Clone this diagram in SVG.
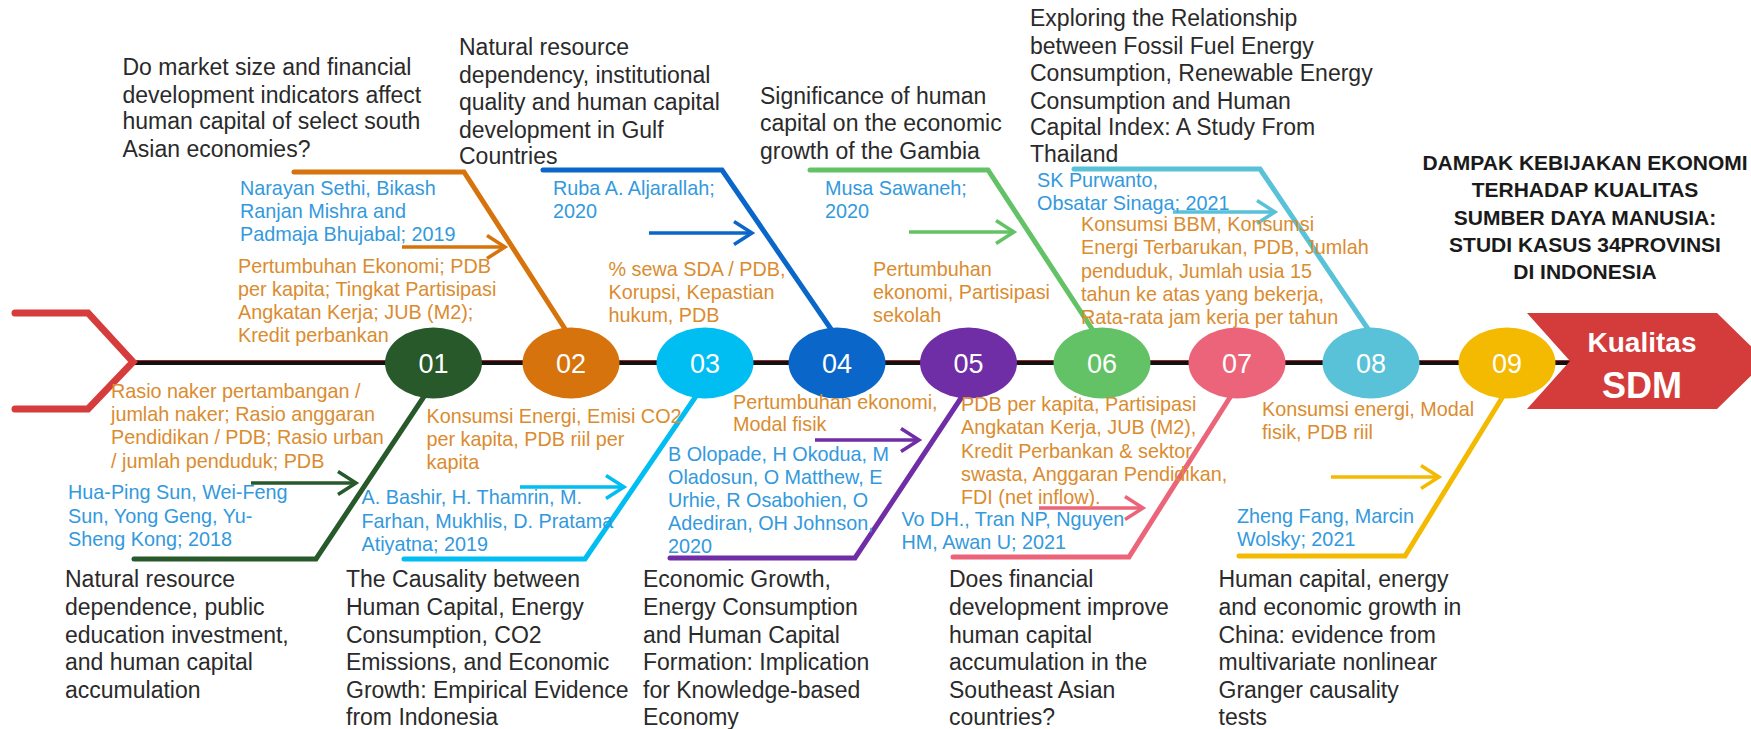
<svg xmlns="http://www.w3.org/2000/svg" width="1751" height="729" viewBox="0 0 1751 729">
<style>
text{font-family:"Liberation Sans",Arial,sans-serif}
.t{font-size:23px;fill:#2a2a2a}
.a{font-size:19.8px;fill:#3399DD}
.v{font-size:19.8px;fill:#DA8C2F}
.h{font-size:21px;font-weight:bold;fill:#1a1a1a;text-anchor:middle}
.n{font-size:27px;fill:#fff;text-anchor:middle}
.bone{fill:none;stroke-width:5;stroke-linejoin:miter;stroke-linecap:round}
.arr{fill:none;stroke-width:3.5}
</style>
<defs>
<marker id="m1" markerUnits="userSpaceOnUse" markerWidth="24" markerHeight="28" refX="19" refY="12" orient="auto" overflow="visible"><path d="M1,0.5 L19,12 L1,23.5" fill="none" stroke="#27592A" stroke-width="3.5"/></marker>
<marker id="m2" markerUnits="userSpaceOnUse" markerWidth="24" markerHeight="28" refX="19" refY="12" orient="auto" overflow="visible"><path d="M1,0.5 L19,12 L1,23.5" fill="none" stroke="#D6730C" stroke-width="3.5"/></marker>
<marker id="m3" markerUnits="userSpaceOnUse" markerWidth="24" markerHeight="28" refX="19" refY="12" orient="auto" overflow="visible"><path d="M1,0.5 L19,12 L1,23.5" fill="none" stroke="#00BDF2" stroke-width="3.5"/></marker>
<marker id="m4" markerUnits="userSpaceOnUse" markerWidth="24" markerHeight="28" refX="19" refY="12" orient="auto" overflow="visible"><path d="M1,0.5 L19,12 L1,23.5" fill="none" stroke="#0A67C9" stroke-width="3.5"/></marker>
<marker id="m5" markerUnits="userSpaceOnUse" markerWidth="24" markerHeight="28" refX="19" refY="12" orient="auto" overflow="visible"><path d="M1,0.5 L19,12 L1,23.5" fill="none" stroke="#6F2DA6" stroke-width="3.5"/></marker>
<marker id="m6" markerUnits="userSpaceOnUse" markerWidth="24" markerHeight="28" refX="19" refY="12" orient="auto" overflow="visible"><path d="M1,0.5 L19,12 L1,23.5" fill="none" stroke="#64C266" stroke-width="3.5"/></marker>
<marker id="m7" markerUnits="userSpaceOnUse" markerWidth="24" markerHeight="28" refX="19" refY="12" orient="auto" overflow="visible"><path d="M1,0.5 L19,12 L1,23.5" fill="none" stroke="#EC6479" stroke-width="3.5"/></marker>
<marker id="m8" markerUnits="userSpaceOnUse" markerWidth="24" markerHeight="28" refX="19" refY="12" orient="auto" overflow="visible"><path d="M1,0.5 L19,12 L1,23.5" fill="none" stroke="#59C2D8" stroke-width="3.5"/></marker>
<marker id="m9" markerUnits="userSpaceOnUse" markerWidth="24" markerHeight="28" refX="19" refY="12" orient="auto" overflow="visible"><path d="M1,0.5 L19,12 L1,23.5" fill="none" stroke="#F4B901" stroke-width="3.5"/></marker>
</defs>
<rect width="1751" height="729" fill="#fff"/>

<g id="connectors">
  <line x1="133" y1="361" x2="1572" y2="361" stroke="#9A2A2A" stroke-width="2"/>
  <line x1="133" y1="363" x2="1572" y2="363" stroke="#111" stroke-width="4"/>
  <polyline points="15,313 88,313 133,362 88,409 15,409" fill="none" stroke="#D63C3C" stroke-width="7" stroke-linecap="round"/>
  <path class="bone" stroke="#27592A" d="M435,380 L316,559 H134"/>
  <path class="arr" stroke="#27592A" marker-end="url(#m1)" d="M251,483 H356"/>
  <path class="bone" stroke="#D6730C" d="M294,172 H464 L567,332"/>
  <path class="arr" stroke="#D6730C" marker-end="url(#m2)" d="M402,247 H505"/>
  <path class="bone" stroke="#00BDF2" d="M707,380 L585,559 H404"/>
  <path class="arr" stroke="#00BDF2" marker-end="url(#m3)" d="M520,487 H624"/>
  <path class="bone" stroke="#0A67C9" d="M543,170 H722 L833,332"/>
  <path class="arr" stroke="#0A67C9" marker-end="url(#m4)" d="M649,233 H752"/>
  <path class="bone" stroke="#6F2DA6" d="M973,380 L855,558 H670"/>
  <path class="arr" stroke="#6F2DA6" marker-end="url(#m5)" d="M815,440 H919"/>
  <path class="bone" stroke="#64C266" d="M810,170 H988 L1094,332"/>
  <path class="arr" stroke="#64C266" marker-end="url(#m6)" d="M909,232 H1014"/>
  <path class="bone" stroke="#EC6479" d="M1241,380 L1129,557 H953"/>
  <path class="arr" stroke="#EC6479" marker-end="url(#m7)" d="M1039,508 H1143"/>
  <path class="bone" stroke="#59C2D8" d="M1074,169 H1260 L1370,332"/>
  <path class="arr" stroke="#59C2D8" marker-end="url(#m8)" d="M1173,212 H1275"/>
  <path class="bone" stroke="#F4B901" d="M1513,380 L1405,556 H1239"/>
  <path class="arr" stroke="#F4B901" marker-end="url(#m9)" d="M1331,477 H1439"/>
</g>

<g id="n01"><ellipse cx="433.5" cy="363" rx="48.5" ry="35.5" fill="#27592A"/><text class="n" x="433.5" y="373">01</text></g>
<g id="n02"><ellipse cx="571" cy="363" rx="48.5" ry="35.5" fill="#D6730C"/><text class="n" x="571" y="373">02</text></g>
<g id="n03"><ellipse cx="705" cy="363" rx="48.5" ry="35.5" fill="#00BDF2"/><text class="n" x="705" y="373">03</text></g>
<g id="n04"><ellipse cx="837" cy="363" rx="48.5" ry="35.5" fill="#0A67C9"/><text class="n" x="837" y="373">04</text></g>
<g id="n05"><ellipse cx="968.5" cy="363" rx="48.5" ry="35.5" fill="#6F2DA6"/><text class="n" x="968.5" y="373">05</text></g>
<g id="n06"><ellipse cx="1102" cy="363" rx="48.5" ry="35.5" fill="#64C266"/><text class="n" x="1102" y="373">06</text></g>
<g id="n07"><ellipse cx="1237" cy="363" rx="48.5" ry="35.5" fill="#EC6479"/><text class="n" x="1237" y="373">07</text></g>
<g id="n08"><ellipse cx="1371" cy="363" rx="48.5" ry="35.5" fill="#59C2D8"/><text class="n" x="1371" y="373">08</text></g>
<g id="n09"><ellipse cx="1507" cy="363" rx="48.5" ry="35.5" fill="#F4B901"/><text class="n" x="1507" y="373">09</text></g>

<g id="result">
  <polygon points="1527,313 1717,313 1766,361 1717,409 1527,409 1570,361" fill="#D43B3B"/>
  <text x="1642" y="352" font-size="28" font-weight="bold" fill="#fff" text-anchor="middle">Kualitas</text>
  <text x="1642" y="398" font-size="36" font-weight="bold" fill="#fff" text-anchor="middle">SDM</text>
</g>

<g id="main-title">
  <text class="h"><tspan x="1585" y="170">DAMPAK KEBIJAKAN EKONOMI</tspan><tspan x="1585" y="197">TERHADAP KUALITAS</tspan><tspan x="1585" y="225">SUMBER DAYA MANUSIA:</tspan><tspan x="1585" y="252">STUDI KASUS 34PROVINSI</tspan><tspan x="1585" y="279">DI INDONESIA</tspan></text>
</g>

<g id="study01">
  <text class="t"><tspan x="65" y="587">Natural resource</tspan><tspan x="65" y="615">dependence, public</tspan><tspan x="65" y="643">education investment,</tspan><tspan x="65" y="670">and human capital</tspan><tspan x="65" y="698">accumulation</tspan></text>
  <text class="a"><tspan x="68" y="499">Hua-Ping Sun, Wei-Feng</tspan><tspan x="68" y="523">Sun, Yong Geng, Yu-</tspan><tspan x="68" y="546">Sheng Kong; 2018</tspan></text>
  <text class="v"><tspan x="111" y="398">Rasio naker pertambangan /</tspan><tspan x="111" y="421">jumlah naker; Rasio anggaran</tspan><tspan x="111" y="444">Pendidikan / PDB;  Rasio urban</tspan><tspan x="111" y="468">/ jumlah penduduk; PDB</tspan></text>
</g>

<g id="study02">
  <text class="t"><tspan x="122.5" y="75">Do market size and financial</tspan><tspan x="122.5" y="103">development  indicators affect</tspan><tspan x="122.5" y="129">human capital of select south</tspan><tspan x="122.5" y="157">Asian economies?</tspan></text>
  <text class="a"><tspan x="240" y="195">Narayan Sethi, Bikash</tspan><tspan x="240" y="218">Ranjan Mishra and</tspan><tspan x="240" y="241">Padmaja Bhujabal; 2019</tspan></text>
  <text class="v"><tspan x="238" y="273">Pertumbuhan Ekonomi; PDB</tspan><tspan x="238" y="296">per kapita; Tingkat Partisipasi</tspan><tspan x="238" y="319">Angkatan Kerja; JUB (M2);</tspan><tspan x="238" y="342">Kredit perbankan</tspan></text>
</g>

<g id="study03">
  <text class="t"><tspan x="346" y="587">The Causality between</tspan><tspan x="346" y="615">Human Capital, Energy</tspan><tspan x="346" y="643">Consumption, CO2</tspan><tspan x="346" y="670">Emissions, and Economic</tspan><tspan x="346" y="698">Growth: Empirical Evidence</tspan><tspan x="346" y="725">from Indonesia</tspan></text>
  <text class="a"><tspan x="361.5" y="504">A. Bashir, H. Thamrin, M.</tspan><tspan x="361.5" y="528">Farhan, Mukhlis, D. Pratama</tspan><tspan x="361.5" y="551">Atiyatna; 2019</tspan></text>
  <text class="v"><tspan x="426.5" y="423">Konsumsi Energi, Emisi CO2</tspan><tspan x="426.5" y="446">per kapita, PDB riil per</tspan><tspan x="426.5" y="469">kapita</tspan></text>
</g>

<g id="study04">
  <text class="t"><tspan x="459" y="55">Natural resource</tspan><tspan x="459" y="83">dependency, institutional</tspan><tspan x="459" y="110">quality and human capital</tspan><tspan x="459" y="138">development in Gulf</tspan><tspan x="459" y="164">Countries</tspan></text>
  <text class="a"><tspan x="553" y="195">Ruba A. Aljarallah;</tspan><tspan x="553" y="218">2020</tspan></text>
  <text class="v"><tspan x="608.5" y="276">% sewa SDA / PDB,</tspan><tspan x="608.5" y="299">Korupsi, Kepastian</tspan><tspan x="608.5" y="322">hukum, PDB</tspan></text>
</g>

<g id="study05">
  <text class="t"><tspan x="643" y="587">Economic Growth,</tspan><tspan x="643" y="615">Energy Consumption</tspan><tspan x="643" y="643">and Human Capital</tspan><tspan x="643" y="670">Formation: Implication</tspan><tspan x="643" y="698">for Knowledge-based</tspan><tspan x="643" y="725">Economy</tspan></text>
  <text class="a"><tspan x="668" y="461">B Olopade, H Okodua, M</tspan><tspan x="668" y="484">Oladosun, O Matthew, E</tspan><tspan x="668" y="507">Urhie, R Osabohien, O</tspan><tspan x="668" y="530">Adediran, OH Johnson,</tspan><tspan x="668" y="553">2020</tspan></text>
  <text class="v"><tspan x="733" y="409">Pertumbuhan ekonomi,</tspan><tspan x="733" y="431">Modal fisik</tspan></text>
</g>

<g id="study06">
  <text class="t"><tspan x="760" y="104">Significance of human</tspan><tspan x="760" y="131">capital on the economic</tspan><tspan x="760" y="159">growth of the Gambia</tspan></text>
  <text class="a"><tspan x="825" y="195">Musa Sawaneh;</tspan><tspan x="825" y="218">2020</tspan></text>
  <text class="v"><tspan x="873" y="276">Pertumbuhan</tspan><tspan x="873" y="299">ekonomi, Partisipasi</tspan><tspan x="873" y="322">sekolah</tspan></text>
</g>

<g id="study07">
  <text class="t"><tspan x="949" y="587">Does financial</tspan><tspan x="949" y="615">development improve</tspan><tspan x="949" y="643">human capital</tspan><tspan x="949" y="670">accumulation in the</tspan><tspan x="949" y="698">Southeast Asian</tspan><tspan x="949" y="725">countries?</tspan></text>
  <text class="a"><tspan x="901.5" y="526">Vo DH., Tran NP, Nguyen</tspan><tspan x="901.5" y="549">HM, Awan U; 2021</tspan></text>
  <text class="v"><tspan x="961" y="411">PDB per kapita, Partisipasi</tspan><tspan x="961" y="434">Angkatan Kerja, JUB (M2),</tspan><tspan x="961" y="458">Kredit Perbankan &amp; sektor</tspan><tspan x="961" y="481">swasta, Anggaran Pendidikan,</tspan><tspan x="961" y="504">FDI (net inflow).</tspan></text>
</g>

<g id="study08">
  <text class="t"><tspan x="1030" y="26">Exploring the Relationship</tspan><tspan x="1030" y="54">between Fossil Fuel Energy</tspan><tspan x="1030" y="81">Consumption, Renewable Energy</tspan><tspan x="1030" y="109">Consumption and Human</tspan><tspan x="1030" y="135">Capital Index: A Study From</tspan><tspan x="1030" y="162">Thailand</tspan></text>
  <text class="a"><tspan x="1037" y="187">SK Purwanto,</tspan><tspan x="1037" y="210">Obsatar Sinaga; 2021</tspan></text>
  <text class="v"><tspan x="1081" y="231">Konsumsi BBM, Konsumsi</tspan><tspan x="1081" y="254">Energi Terbarukan, PDB, Jumlah</tspan><tspan x="1081" y="278">penduduk, Jumlah usia 15</tspan><tspan x="1081" y="301">tahun ke atas yang bekerja,</tspan><tspan x="1081" y="324">Rata-rata jam kerja per tahun</tspan></text>
</g>

<g id="study09">
  <text class="t"><tspan x="1218.5" y="587">Human capital, energy</tspan><tspan x="1218.5" y="615">and economic growth in</tspan><tspan x="1218.5" y="643">China: evidence from</tspan><tspan x="1218.5" y="670">multivariate nonlinear</tspan><tspan x="1218.5" y="698">Granger causality</tspan><tspan x="1218.5" y="725">tests</tspan></text>
  <text class="a"><tspan x="1237" y="523">Zheng Fang, Marcin</tspan><tspan x="1237" y="546">Wolsky; 2021</tspan></text>
  <text class="v"><tspan x="1262" y="416">Konsumsi energi, Modal</tspan><tspan x="1262" y="439">fisik, PDB riil</tspan></text>
</g>
</svg>
